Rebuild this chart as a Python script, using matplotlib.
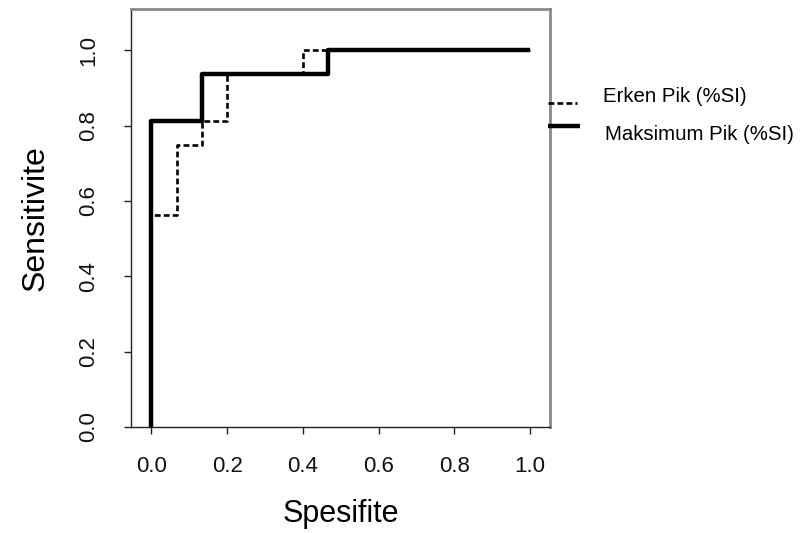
import matplotlib
matplotlib.use("Agg")
import matplotlib.pyplot as plt
from matplotlib.lines import Line2D

plt.rcParams['font.family'] = ['Liberation Sans', 'DejaVu Sans']

# ROC curve vertices (specificity axis as drawn, sensitivity)
erken_x = [0.0, 0.0, 0.0667, 0.1333, 0.2, 0.4, 1.0]
erken_y = [0.0, 0.5625, 0.75, 0.8125, 0.9375, 1.0, 1.0]
maks_x = [0.0, 0.0, 0.1333, 0.4667, 1.0]
maks_y = [0.0, 0.8125, 0.9375, 1.0, 1.0]

series_labels = ["Erken Pik (%SI)", "Maksimum Pik (%SI)"]
xticks = [0.0, 0.2, 0.4, 0.6, 0.8, 1.0]
yticks = [0.0, 0.2, 0.4, 0.6, 0.8, 1.0]
x_label = "Spesifite"
y_label = "Sensitivite"

fig = plt.figure(figsize=(8.04, 5.33), dpi=100)
ax = fig.add_axes([131/804, 1 - 427/533, (550-131)/804, (427-9)/533])

ax.step(erken_x, erken_y, where='post', color='black', lw=1.9,
        linestyle=(0, (2.2, 1.2)))
ax.step(maks_x, maks_y, where='post', color='black', lw=3.2,
        solid_capstyle='butt')

ax.set_xlim(-0.054, 1.053)
ax.set_ylim(0.0, 1.11)
ax.set_xticks(xticks)
ax.set_yticks(yticks)
ax.set_xticklabels([f"{v:.1f}" for v in xticks], fontsize=16, color='#111111')
ax.set_yticklabels([f"{v:.1f}" for v in yticks], fontsize=16, color='#111111',
                   rotation=90, va='center')
ax.tick_params(axis='x', length=5, width=1, pad=16, color='#222222')
ax.tick_params(axis='y', length=5, width=1, pad=18, color='#222222')

ax.set_xlabel(x_label, fontsize=22, labelpad=16)
ax.set_ylabel(y_label, fontsize=23, labelpad=20)

for s in ['left', 'bottom']:
    ax.spines[s].set_color('#222222')
    ax.spines[s].set_linewidth(1.0)
for s in ['top', 'right']:
    ax.spines[s].set_color('#8a8a8a')
    ax.spines[s].set_linewidth(2.0)

# manual legend outside right
def fx(px):
    return px / 804
def fy(py):
    return 1 - py / 533

fig.add_artist(Line2D([fx(548), fx(577)], [fy(103), fy(103)], color='black',
                      lw=1.9, linestyle=(0, (2.2, 1.2))))
fig.add_artist(Line2D([fx(548), fx(580)], [fy(126), fy(126)], color='black',
                      lw=3.2, solid_capstyle='butt'))
fig.text(fx(603), fy(97), series_labels[0], fontsize=14.7, va='center', ha='left')
fig.text(fx(605), fy(135), series_labels[1], fontsize=14.7, va='center', ha='left')

fig.savefig("out.png", dpi=100)
